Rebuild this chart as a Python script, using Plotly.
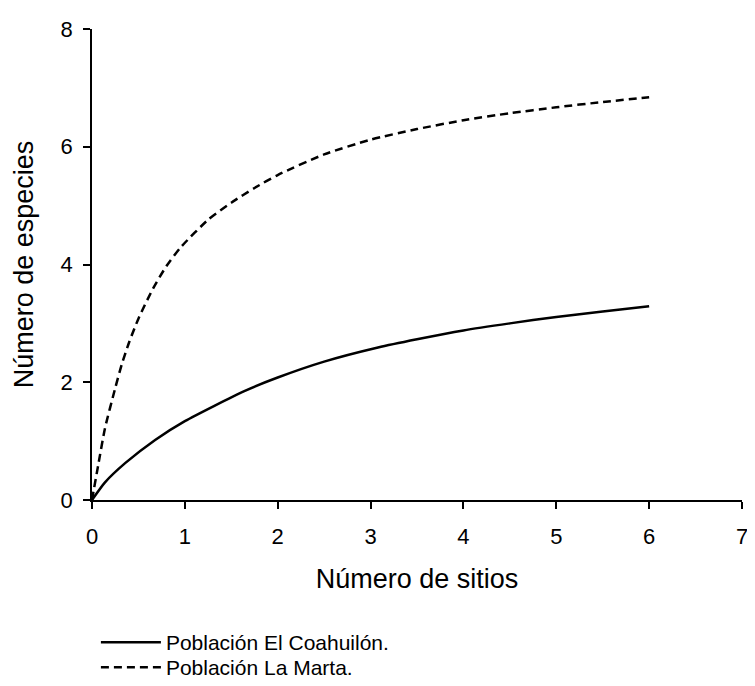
import plotly.graph_objects as go

# Data
x_coahuilon = [0, 0.14, 0.36, 0.68, 1.0, 1.64, 2.0, 2.5, 3.08, 3.5, 4.0, 4.5, 5.0, 5.5, 6.0]
y_coahuilon = [0, 0.30, 0.63, 1.02, 1.34, 1.85, 2.08, 2.35, 2.59, 2.73, 2.88, 3.00, 3.11, 3.20, 3.29]

x_marta = [0, 0.07, 0.14, 0.25, 0.32, 0.4, 0.5, 0.66, 0.8, 0.96, 1.25, 1.5, 1.75, 2.0, 2.5, 3.0, 3.5, 4.0, 4.5, 5.0, 5.5, 6.0]
y_marta = [0, 0.62, 1.22, 1.90, 2.30, 2.68, 3.08, 3.60, 3.97, 4.30, 4.76, 5.05, 5.30, 5.52, 5.87, 6.12, 6.30, 6.45, 6.57, 6.67, 6.76, 6.84]

x_ticks = [0, 1, 2, 3, 4, 5, 6, 7]
y_ticks = [0, 2, 4, 6, 8]

name_a = "Población El Coahuilón."
name_b = "Población La Marta."
x_title = "Número de sitios"
y_title = "Número de especies"

font_family = "Liberation Sans, Arial, sans-serif"

fig = go.Figure()
fig.add_trace(go.Scatter(
    x=x_coahuilon, y=y_coahuilon, mode="lines", name=name_a, legend="legend",
    line=dict(color="black", width=2.5, shape="spline", smoothing=0.6),
))
fig.add_trace(go.Scatter(
    x=x_marta, y=y_marta, mode="lines", name=name_b, legend="legend2",
    line=dict(color="black", width=2.5, dash="8px,5px", shape="spline", smoothing=0.6),
))

axis_common = dict(
    showgrid=False, zeroline=False, showline=True, linecolor="black", linewidth=1.5,
    ticks="outside", ticklen=7, tickwidth=1.5, tickcolor="black",
    tickfont=dict(family=font_family, size=22, color="black"),
    automargin=False, ticklabeloverflow="allow",
)

fig.update_xaxes(
    range=[0, 7], tickvals=x_ticks, ticklabelstandoff=9,
    title=dict(text=x_title, font=dict(family=font_family, size=27, color="black"), standoff=21),
    **axis_common,
)
fig.update_yaxes(
    range=[0, 8], tickvals=y_ticks, ticklabelstandoff=6,
    title=dict(text=y_title, font=dict(family=font_family, size=27, color="black"), standoff=19),
    **axis_common,
)

legend_common = dict(
    x=0.006, xanchor="left", yanchor="middle",
    font=dict(family=font_family, size=21, color="black"),
    bgcolor="rgba(0,0,0,0)", itemwidth=60,
)

fig.update_layout(
    width=747, height=670,
    margin=dict(l=84, r=13, t=21, b=178, autoexpand=False),
    paper_bgcolor="white", plot_bgcolor="white",
    font=dict(family=font_family, color="black"),
    showlegend=True,
    legend=dict(y=-0.3025, **legend_common),
    legend2=dict(y=-0.3556, **legend_common),
)

fig.write_html("out.html")
